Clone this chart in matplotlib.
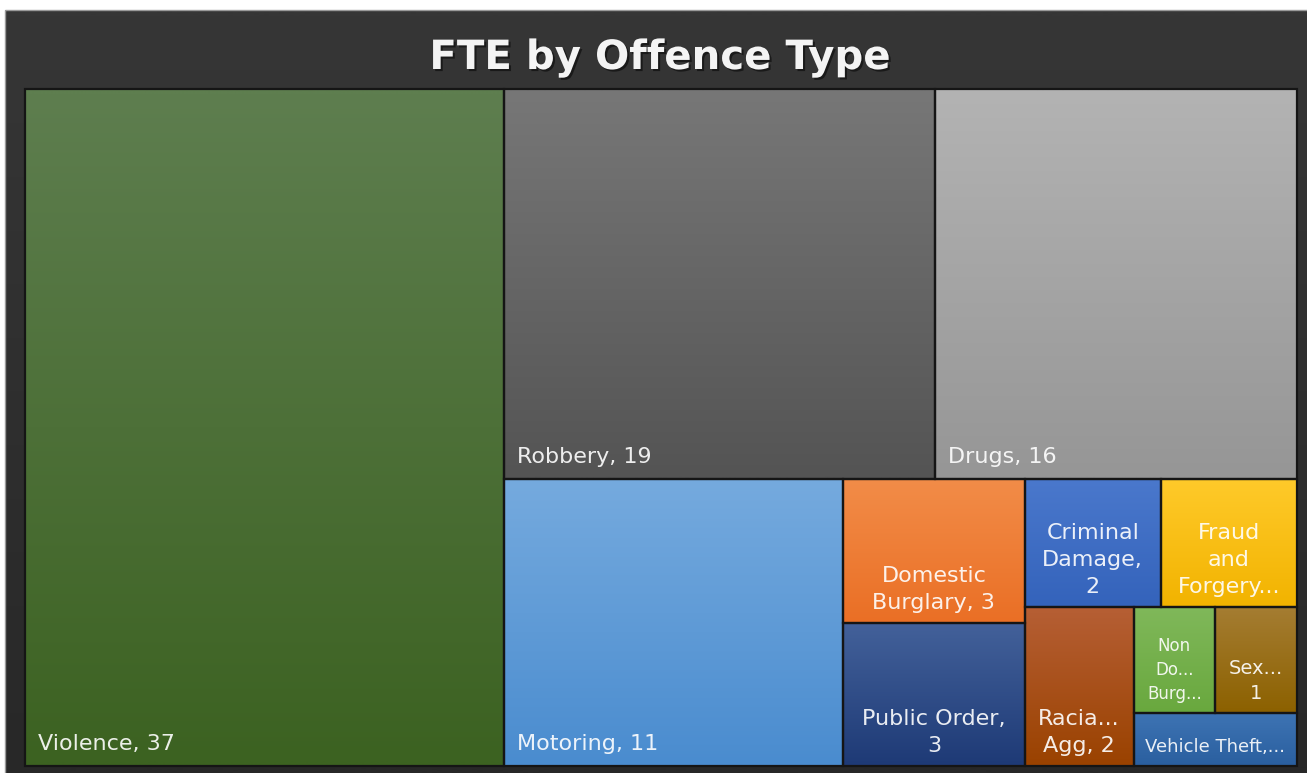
import numpy as np
import matplotlib
matplotlib.use('Agg')
import matplotlib.pyplot as plt
import matplotlib.patheffects as pe
from matplotlib.patches import Rectangle
from matplotlib.colors import to_rgb

# data
offences = ['Violence', 'Robbery', 'Drugs', 'Motoring', 'Domestic Burglary',
            'Public Order', 'Criminal Damage', 'Fraud and Forgery', 'Racially Agg',
            'Non Domestic Burglary', 'Sexual', 'Vehicle Theft']
fte = [37.4, 19.4, 16.3, 11.2, 3.0, 3.0, 2.0, 2.0, 2.0, 1.0, 1.0, 1.0]
# labels as shown (Excel truncates the small ones)
shown = ['Violence, 37', 'Robbery, 19', 'Drugs, 16', 'Motoring, 11',
         'Domestic\nBurglary, 3', 'Public Order,\n3', 'Criminal\nDamage,\n2',
         'Fraud\nand\nForgery...', 'Racia...\nAgg, 2', 'Non\nDo...\nBurg...',
         'Sex...\n1', 'Vehicle Theft,...']

top_cols = ['#5e7e4f', '#777777', '#b3b3b3', '#75aade', '#f28c48', '#43619a',
            '#4a78cc', '#ffca2a', '#b65f35', '#80b85a', '#a57d32', '#3e74b4']
bot_cols = ['#3c6221', '#545454', '#969696', '#4a8ccf', '#ea6f25', '#1e3a76',
            '#3463bb', '#f2b300', '#9a4200', '#69a83e', '#8c6100', '#2a5f9f']
# smaller text in the tiny cells
small_font = {9: 12, 10: 14, 11: 13}

FONT = 'DejaVu Sans'   # wide face, the screenshot is stretched sideways


def worst_ratio(group, side):
    t = sum(group) / side
    return max(max(t / (a / t), (a / t) / t) for a in group)


def squarify(vals, x, y, w, h):
    areas = [v * w * h / sum(vals) for v in vals]
    rects = []
    i = 0
    while i < len(areas):
        best = None
        for orient in ('col', 'row'):
            side = h if orient == 'col' else w
            j = i + 1
            prev = worst_ratio(areas[i:j], side)
            while j < len(areas):
                nxt = worst_ratio(areas[i:j + 1], side)
                if nxt > prev:
                    break
                prev = nxt
                j += 1
            if best is None or prev < best[0]:
                best = (prev, orient, j)
        _, orient, j = best
        group = areas[i:j]
        if orient == 'col':
            cw = sum(group) / h
            yy = y
            for a in group:
                rects.append((x, yy, cw, a / cw))
                yy += a / cw
            x += cw
            w -= cw
        else:
            rh = sum(group) / w
            xx = x
            for a in group:
                rects.append((xx, y, a / rh, rh))
                xx += a / rh
            y += rh
            h -= rh
        i = j
    return rects


def gradient(ax, x0, y0, x1, y1, c_top, c_bot):
    t = np.linspace(0, 1, 64)[:, None]
    img = (1 - t) * np.array(to_rgb(c_top)) + t * np.array(to_rgb(c_bot))
    ax.imshow(img[:, None, :], extent=(x0, x1, y1, y0), origin='upper',
              aspect='auto', interpolation='bilinear', zorder=1)


W, H = 1307, 773
fig = plt.figure(figsize=(W / 100, H / 100), dpi=100, facecolor='white')
ax = fig.add_axes([0, 0, 1, 1])
ax.set_xlim(0, W)
ax.set_ylim(H, 0)
ax.axis('off')

# dark chart frame
gradient(ax, 5, 10, W, H, '#363636', '#282828')
ax.add_patch(Rectangle((5, 10), W, H, fill=False, ec='#9a9a9a', lw=1.0, zorder=2))

rects = squarify(fte, 25, 89, 1272, 677)
for k, (x, y, w, h) in enumerate(rects):
    gradient(ax, x, y, x + w, y + h, top_cols[k], bot_cols[k])
    ax.add_patch(Rectangle((x, y), w, h, fill=False, ec='#151515', lw=1.6, zorder=2))
    fs = small_font.get(k, 16)
    if '\n' not in shown[k] and k < 4:
        ax.text(x + 13, y + h - 16, shown[k], ha='left', va='baseline',
                fontsize=fs, color='white', alpha=0.9, family=FONT, zorder=3)
    else:
        ax.text(x + w / 2, y + h - 10, shown[k], ha='center', va='bottom',
                multialignment='center', fontsize=fs, color='white', alpha=0.9,
                family=FONT, linespacing=1.42, zorder=3)

ax.text(660, 58, 'FTE by Offence Type', ha='center', va='center', fontsize=29,
        fontweight='bold', family=FONT, color='#f4f4f4', zorder=4,
        path_effects=[pe.withSimplePatchShadow(offset=(1.5, -1.5), shadow_rgbFace='black',
                                               alpha=0.5)])

fig.savefig('out.png', dpi=100, facecolor='white')
